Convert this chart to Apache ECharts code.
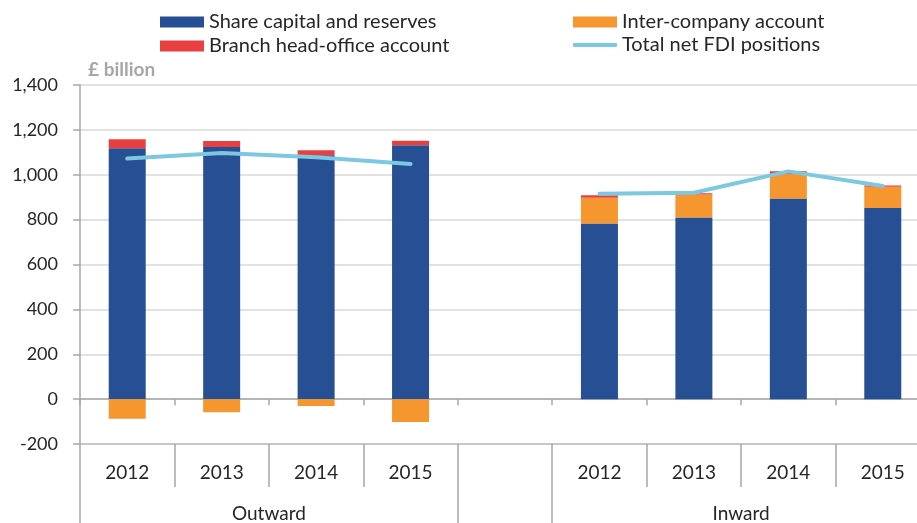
<!DOCTYPE html>
<html>
<head>
<meta charset="utf-8">
<script src="https://cdn.jsdelivr.net/npm/echarts@6/dist/echarts.min.js"></script>
<style>
  html, body { margin: 0; padding: 0; background: #fff; }
  #chart { width: 917px; height: 523px; }
</style>
</head>
<body>
<div id="chart"></div>
<script>
// categories: 4 outward years, an empty gap, 4 inward years
const years = ['2012', '2013', '2014', '2015', '', '2012', '2013', '2014', '2015']
const groups = ['Outward', 'Inward']
const groupCenters = [2, 7]
const groupEdges = [0, 4, 5, 9]

// £ billion
const shareCapital = [1118, 1124, 1087, 1131, '-', 783, 809, 894, 852]
const interCompany = [-88, -58, -31, -102, '-', 114, 103, 108, 94]
const branchHO = [40, 26, 22, 21, '-', 12, 6, 14, 6]
const totalNet = [1072, 1097, 1078, 1048, '-', 915, 920, 1015, 950]

const yTicks = { min: -200, max: 1400, interval: 200 }

const font = 'Lato, "Open Sans", sans-serif'
const txt = '#262626'
const axisGrey = '#a6a6a6'

const myChart = echarts.init(document.getElementById('chart'))

// the plot runs a little past the right edge of the picture
const plotBox = { left: 80, top: 85, width: 850, height: 359, outerBoundsMode: 'none' }

const legendText = { fontSize: 20, color: txt }

const option = {
  animation: false,
  textStyle: { fontFamily: font },
  legend: [
    {
      orient: 'vertical', left: 155, top: 7, itemWidth: 44, itemHeight: 11, itemGap: 4,
      icon: 'rect', textStyle: legendText,
      data: ['Share capital and reserves', 'Branch head-office account']
    },
    {
      left: 568, top: 7, itemWidth: 44, itemHeight: 11,
      icon: 'rect', textStyle: legendText,
      data: ['Inter-company account']
    },
    {
      left: 568, top: 30, itemWidth: 44, itemHeight: 4,
      icon: 'roundRect', textStyle: legendText,
      data: ['Total net FDI positions']
    }
  ],
  grid: [
    Object.assign({}, plotBox),
    Object.assign({}, plotBox)
  ],
  xAxis: [
    {
      type: 'category', gridIndex: 0, data: years,
      axisLine: { onZero: true, lineStyle: { color: axisGrey, width: 1.5 } },
      axisTick: { show: true, interval: 0, length: 6, lineStyle: { color: axisGrey, width: 1.5 } },
      axisLabel: { show: false }
    },
    {
      type: 'category', gridIndex: 0, data: years, position: 'bottom',
      axisLine: { onZero: false, lineStyle: { color: '#bfbfbf', width: 1.5 } },
      axisTick: { show: true, interval: 0, length: 43, lineStyle: { color: axisGrey, width: 1.5 } },
      axisLabel: { interval: 0, margin: 19, fontSize: 19, color: txt }
    },
    {
      type: 'value', gridIndex: 1, min: 0, max: 9, position: 'bottom',
      axisLine: { show: false, onZero: false },
      splitLine: { show: false },
      axisTick: { show: true, customValues: groupEdges, length: 82, lineStyle: { color: axisGrey, width: 1.5 } },
      axisLabel: {
        customValues: groupCenters, margin: 60, fontSize: 19, color: txt,
        formatter: v => groups[groupCenters.indexOf(v)]
      }
    }
  ],
  yAxis: [
    {
      type: 'value', gridIndex: 0, min: yTicks.min, max: yTicks.max, interval: yTicks.interval,
      name: '£ billion', nameLocation: 'end', nameGap: 6,
      nameTextStyle: { align: 'left', padding: [0, 0, 0, 8], color: axisGrey, fontWeight: 'bold', fontSize: 19 },
      axisLine: { show: true, lineStyle: { color: axisGrey, width: 1.5 } },
      axisTick: { show: true, length: 7, lineStyle: { color: axisGrey, width: 1.5 } },
      axisLabel: {
        margin: 22, fontSize: 18, color: txt,
        formatter: v => v.toLocaleString('en-GB')
      },
      splitLine: { lineStyle: { color: '#d9d9d9', width: 1.5 } }
    },
    { type: 'value', gridIndex: 1, min: 0, max: 1, show: false }
  ],
  series: [
    {
      name: 'Share capital and reserves', type: 'bar', stack: 'fdi', xAxisIndex: 0, yAxisIndex: 0,
      barWidth: 37, data: shareCapital,
      itemStyle: { color: '#264f94' }
    },
    {
      name: 'Inter-company account', type: 'bar', stack: 'fdi', xAxisIndex: 0, yAxisIndex: 0,
      barWidth: 37, data: interCompany,
      itemStyle: { color: '#f5962f' }
    },
    {
      name: 'Branch head-office account', type: 'bar', stack: 'fdi', xAxisIndex: 0, yAxisIndex: 0,
      barWidth: 37, data: branchHO,
      itemStyle: { color: '#e84040' }
    },
    {
      name: 'Total net FDI positions', type: 'line', xAxisIndex: 0, yAxisIndex: 0,
      data: totalNet, symbol: 'none', connectNulls: false, z: 5,
      lineStyle: { color: '#7cc8e0', width: 4, cap: 'round' },
      itemStyle: { color: '#7cc8e0' }
    }
  ]
}

myChart.setOption(option)
window.addEventListener('resize', () => {
  myChart.resize()
})
</script>
</body>
</html>
